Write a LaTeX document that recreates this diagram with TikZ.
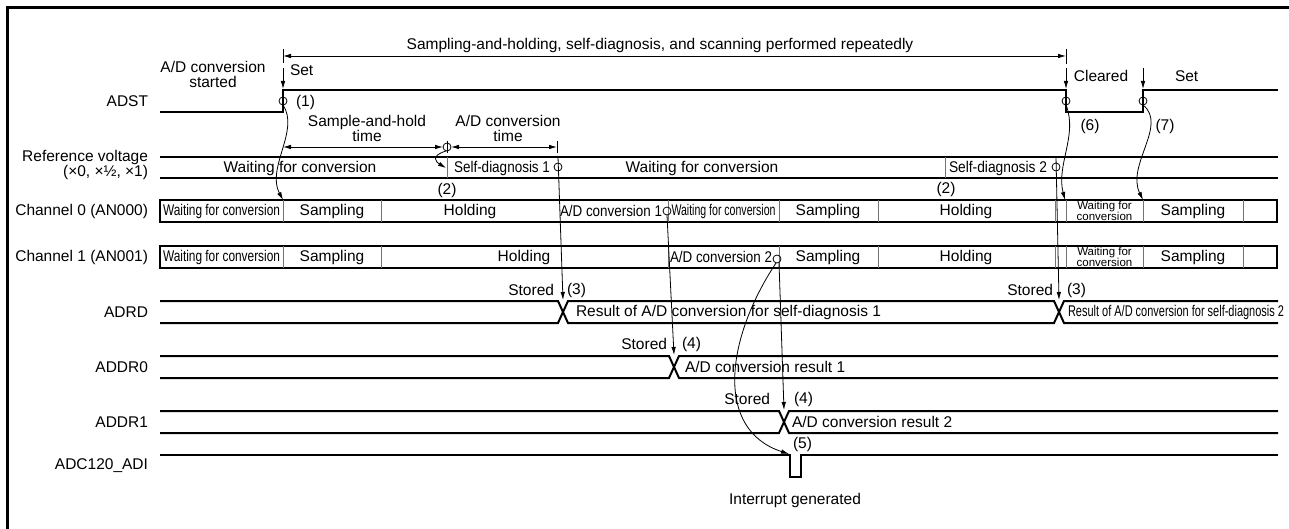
\documentclass[tikz,border=0pt]{standalone}
\usepackage{fontspec}
\setmainfont{Liberation Sans}
\usetikzlibrary{arrows.meta}
\newcommand{\fitw}[2]{\resizebox{#1}{\height}{#2}}
\begin{document}
\begin{tikzpicture}[x=1pt,y=-1pt,
  every node/.style={inner sep=0pt,outer sep=0pt,font=\fontsize{15.5}{15}\selectfont},
  sig/.style={line width=2pt},
  boxs/.style={line width=2.4pt},
  dv/.style={line width=1pt,black!55},
  cn/.style={line width=0.8pt},
  tp/.style={cn,-{Latex[length=8pt,width=4.5pt]}},
  dtp/.style={cn,{Latex[length=8pt,width=4.5pt]}-{Latex[length=8pt,width=4.5pt]}},
  lbl/.style={anchor=east,align=right},
  smalltxt/.style={font=\fontsize{11.5}{8.5}\selectfont,align=center},
]
\useasboundingbox (0,0) rectangle (1289,529);
% frame
\draw[line width=3pt] (7,531) -- (7,8) -- (1291,8);

% ---------- row labels ----------
\node[lbl] (lADST) at (148,101) {ADST};
\node[lbl] (lREF) at (148,165) {Reference voltage\\(×0, ×½, ×1)};
\node[lbl] (lCH0) at (148,211) {Channel 0 (AN000)};
\node[lbl] (lCH1) at (148,257) {Channel 1 (AN001)};
\node[lbl] (lADRD) at (148,312) {ADRD};
\node[lbl] (lADDR0) at (148,367) {ADDR0};
\node[lbl] (lADDR1) at (148,422) {ADDR1};
\node[lbl] (lADI) at (148,466) {ADC120\_ADI};

% ---------- top annotation ----------
\node (cap) at (660,45) {Sampling-and-holding, self-diagnosis, and scanning performed repeatedly};
\coordinate (d1) at (283,56);
\coordinate (d2) at (1066,56);
\draw[dtp] (d1) -- (d2);
\draw[cn] (283,49) -- (283,63);
\draw[cn] (1066,49) -- (1066,64);

\node[align=center] (start) at (213,74) {A/D conversion\\started};
\node[anchor=west] (set1) at (290,70) {Set};
\node (clr) at (1101,76) {Cleared};
\node[anchor=west] (set2) at (1175,76) {Set};
\coordinate (a1s) at (283,68);  \coordinate (a1e) at (283,89);
\coordinate (a6s) at (1066,68); \coordinate (a6e) at (1066,89);
\coordinate (a7s) at (1143,68); \coordinate (a7e) at (1143,89);
\draw[tp] (a1s) -- (a1e);
\draw[tp] (a6s) -- (a6e);
\draw[tp] (a7s) -- (a7e);

% ---------- ADST ----------
\draw[sig] (160,112) -- (283,112) -- (283,90) -- (1066,90) -- (1066,112) -- (1143,112) -- (1143,90) -- (1278,90);
\coordinate (c1) at (283,101);
\coordinate (c6) at (1066,101);
\coordinate (c7) at (1143,101);
\draw[cn] (c1) circle (4);
\draw[cn] (c6) circle (4);
\draw[cn] (c7) circle (4);
\node[anchor=west] (n1) at (296,102) {(1)};
\node (n6) at (1090,126) {(6)};
\node (n7) at (1165,126) {(7)};

% ---------- time dimensions ----------
\node[align=center] (sht) at (367,128) {Sample-and-hold\\time};
\node[align=center] (adt) at (508,128) {A/D conversion\\time};
\coordinate (h1) at (283,147);
\coordinate (h2) at (443,147);
\coordinate (h3) at (451,147);
\coordinate (h4) at (557,147);
\draw[dtp] (h1) -- (h2);
\draw[dtp] (h3) -- (h4);
\draw[cn] (557,141) -- (557,153);
\coordinate (cp) at (447,147);
\draw[cn] (cp) circle (4);
\draw[cn] (447,141) -- (447,153);

% ---------- reference voltage ----------
\draw[sig] (160,157) -- (1278,157);
\draw[sig] (160,178) -- (1278,178);
\draw[dv] (447,157) -- (447,178);
\draw[dv] (945,157) -- (945,178);
\node (rw1) at (300,168) {Waiting for conversion};
\node[anchor=west] (rsd1) at (454,168) {\fitw{96pt}{Self-diagnosis 1}};
\node (rw2) at (702,168) {Waiting for conversion};
\node[anchor=west] (rsd2) at (949,168) {\fitw{98pt}{Self-diagnosis 2}};
\coordinate (sd1) at (558,167);
\coordinate (sd2) at (1056,167);
\draw[cn] (sd1) circle (4);
\draw[cn] (sd2) circle (4);
\node (n2a) at (447,190) {(2)};
\node (n2b) at (946,189) {(2)};

% ---------- channel 0 ----------
\draw[boxs] (160,200) rectangle (1277,222);
\foreach \x in {283,381,668,779,878,1055,1066,1143,1243} \draw[dv] (\x,200) -- (\x,222);
\node (c0a) at (221.5,211) {\fitw{117pt}{Waiting for conversion}};
\node (c0b) at (332,211) {Sampling};
\node (c0c) at (470,211) {Holding};
\node[anchor=west] (c0d) at (560,211) {\fitw{102pt}{A/D conversion 1}};
\node (c0e) at (723.5,211) {\fitw{104pt}{Waiting for conversion}};
\node (c0f) at (828,211) {Sampling};
\node (c0g) at (966,211) {Holding};
\node[smalltxt] (c0h) at (1104.5,211) {Waiting for\\conversion};
\node (c0i) at (1193,211) {Sampling};
\coordinate (ad1) at (667,211);
\draw[cn] (ad1) circle (4);

% ---------- channel 1 ----------
\draw[boxs] (160,246) rectangle (1277,268);
\foreach \x in {283,381,668,779,878,1055,1066,1143,1243} \draw[dv] (\x,246) -- (\x,268);
\node (c1a) at (221.5,257) {\fitw{117pt}{Waiting for conversion}};
\node (c1b) at (332,257) {Sampling};
\node (c1c) at (524,257) {Holding};
\node[anchor=west] (c1d) at (670,257) {\fitw{102pt}{A/D conversion 2}};
\node (c1f) at (828,257) {Sampling};
\node (c1g) at (966,257) {Holding};
\node[smalltxt] (c1h) at (1104.5,257) {Waiting for\\conversion};
\node (c1i) at (1193,257) {Sampling};
\coordinate (ad2) at (777,259);
\draw[cn] (ad2) circle (4);

% ---------- ADRD ----------
\draw[sig] (160,301) -- (558,301) -- (568,323) -- (1054,323) -- (1064,301) -- (1278,301);
\draw[sig] (160,323) -- (558,323) -- (568,301) -- (1054,301) -- (1064,323) -- (1278,323);
\node[anchor=west] (r1) at (576,312) {Result of A/D conversion for self-diagnosis 1};
\node[anchor=west] (r2) at (1068,312) {\fitw{216pt}{Result of A/D conversion for self-diagnosis 2}};
\node[anchor=east] (st1) at (554,290) {Stored};
\node[anchor=west] (n3a) at (567,290) {(3)};
\node[anchor=east] (st2) at (1053,290) {Stored};
\node[anchor=west] (n3b) at (1067,290) {(3)};

% ---------- ADDR0 ----------
\draw[sig] (160,356) -- (669,356) -- (679,378) -- (1278,378);
\draw[sig] (160,378) -- (669,378) -- (679,356) -- (1278,356);
\node[anchor=west] (r3) at (685,367) {A/D conversion result 1};
\node[anchor=east] (st3) at (667,344) {Stored};
\node[anchor=west] (n4a) at (682,344) {(4)};

% ---------- ADDR1 ----------
\draw[sig] (160,411) -- (779,411) -- (789,433) -- (1278,433);
\draw[sig] (160,433) -- (779,433) -- (789,411) -- (1278,411);
\node[anchor=west] (r4) at (792,422) {A/D conversion result 2};
\node[anchor=east] (st4) at (770,399) {Stored};
\node[anchor=west] (n4b) at (794,399) {(4)};

% ---------- ADC120_ADI ----------
\draw[sig] (160,455) -- (790,455) -- (790,477) -- (801,477) -- (801,455) -- (1278,455);
\node[anchor=west] (n5) at (793,444) {(5)};
\node (intg) at (795,500) {Interrupt generated};

% ---------- connectors ----------
\coordinate (ch0s) at (283,200);
\draw[tp] (283,105) .. controls (300,130) and (266,168) .. (ch0s);
\coordinate (sdr) at (446,168);
\draw[tp] (446,151) .. controls (430,156) and (436,162) .. (sdr);
\coordinate (sd1t) at (558,157);
\coordinate (x1) at (563,300);
\draw[tp] (sd1t) -- (x1);
\coordinate (sd2t) at (1056,157);
\coordinate (x2) at (1059,300);
\draw[tp] (sd2t) -- (x2);
\coordinate (x3) at (674,355);
\draw[tp] (667,215) -- (x3);
\coordinate (x4) at (784,410);
\draw[tp] (779,263) -- (x4);
\coordinate (pls) at (789,454);
\draw[tp] (776,263) .. controls (725,340) and (715,430) .. (pls);
\coordinate (ch0w) at (1065,200);
\draw[tp] (1066,105) .. controls (1078,135) and (1056,165) .. (ch0w);
\coordinate (ch0s2) at (1143,200);
\draw[tp] (1143,105) .. controls (1168,125) and (1126,165) .. (ch0s2);
\end{tikzpicture}
\end{document}
